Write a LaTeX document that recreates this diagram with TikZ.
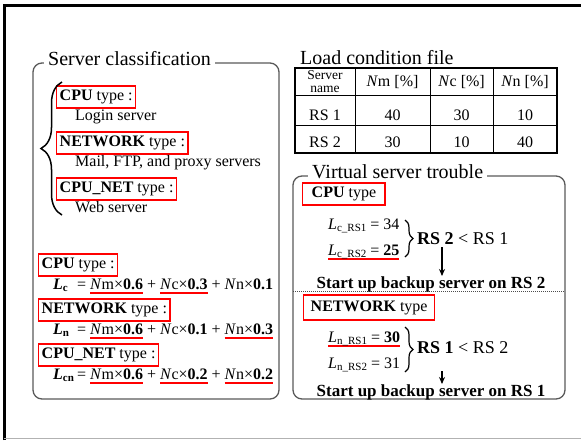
\documentclass[tikz,border=0pt]{standalone}
\usepackage{fontspec}
\setmainfont{Liberation Serif}
\usetikzlibrary{decorations.pathreplacing,arrows.meta}

\newcommand\fsz[1]{\fontsize{#1}{#1}\selectfont}
% lowered small subscript
\newcommand\sbs[1]{\raisebox{-2.5pt}{\fsz{11}#1}}
% red underline under a piece of text
\newsavebox\ulbox
\newcommand\redul[1]{\sbox\ulbox{#1}\rlap{\color{red}\rule[-4.5pt]{\wd\ulbox}{1.6pt}}\usebox\ulbox}
% load term: N<x> x weight
\newcommand\nx[2]{\textit{N}#1×\textbf{#2}}

\begin{document}
\begin{tikzpicture}[x=1pt,y=-1pt,
  panel/.style={draw=black!65, line width=1.3pt, rounded corners=9pt},
  ptitle/.style={fill=white, inner xsep=4pt, inner ysep=1pt, anchor=base west, font=\fsz{20}},
  tag/.style={draw=red, line width=1.4pt, inner xsep=3pt, inner ysep=3.5pt,
              text height=11pt, text depth=4pt, anchor=west, font=\fsz{16}},
  body/.style={inner sep=0pt, anchor=base west, font=\fsz{16}},
  res/.style={inner sep=0pt, anchor=base, font=\fsz{17}\bfseries},
  cmp/.style={inner sep=0pt, anchor=base west, font=\fsz{18}},
  cell/.style={inner sep=0pt, anchor=base, font=\fsz{16}},
  hcell/.style={inner sep=0pt, anchor=base, font=\fsz{13.5}},
  tbl/.style={draw=black, line width=0.8pt},
  brc/.style={decorate, line width=1.2pt},
  down/.style={-{Stealth[length=7pt,width=6pt]}, line width=1.3pt}]

\useasboundingbox (0,0) rectangle (581,440);

% slide frame
\draw[line width=3pt] (4,440) -- (4,5) -- (581,5);
\draw[black!30, line width=1pt] (4,438.5) -- (581,438.5);

% ---------------- left panel ----------------
\draw[panel] (33,63) rectangle (279,399);
\node[ptitle] (t1) at (44,65) {Server classification};

\node[tag] (k1) at (56,97) {\textbf{CPU} type :};
\node[body] (d1) at (75,120) {Login server};
\node[tag] (k2) at (56,143) {\textbf{NETWORK} type :};
\node[body] (d2) at (75,166) {Mail, FTP, and proxy servers};
\node[tag] (k3) at (56,189) {\textbf{CPU\_NET} type :};
\node[body] (d3) at (75,212) {Web server};
\draw[brc, line width=1.5pt, decoration={brace, amplitude=21pt}] (62,215) -- (62,82);

\node[tag] (f1) at (38,265) {\textbf{CPU} type :};
\node[body] (f1l) at (53,289) {\textbf{\textit{L}}\sbs{\textbf{c}}};
\node[body] (f1r) at (77,289) {= \redul{\nx{m}{0.6}} + \redul{\nx{c}{0.3}} + \nx{n}{0.1}};
\node[tag] (f2) at (38,310) {\textbf{NETWORK} type :};
\node[body] (f2l) at (53,334) {\textbf{\textit{L}}\sbs{\textbf{n}}};
\node[body] (f2r) at (77,334) {= \redul{\nx{m}{0.6}} + \nx{c}{0.1} + \redul{\nx{n}{0.3}}};
\node[tag] (f3) at (38,355) {\textbf{CPU\_NET} type :};
\node[body] (f3l) at (53,379) {\textbf{\textit{L}}\sbs{\textbf{cn}}};
\node[body] (f3r) at (77,379) {= \redul{\nx{m}{0.6}} + \redul{\nx{c}{0.2}} + \redul{\nx{n}{0.2}}};

% ---------------- load condition table ----------------
\node[body, font=\fsz{20}] (t2) at (300,64) {Load condition file};
\foreach \x in {355,430,493} \draw[tbl] (\x,68) -- (\x,153);
\foreach \y in {95,125} \draw[tbl] (295,\y) -- (557,\y);
\draw[tbl, line width=1.6pt] (295,68) rectangle (557,153);

\node[hcell] (h1a) at (325,79) {Server};
\node[hcell] (h1b) at (325,92.5) {name};
\node[cell] (h2) at (392.5,86) {\textit{N}m [\%]};
\node[cell] (h3) at (461.5,86) {\textit{N}c [\%]};
\node[cell] (h4) at (525,86) {\textit{N}n [\%]};
\node[cell] (r11) at (325,120) {RS 1};
\node[cell] (r12) at (392.5,120) {40};
\node[cell] (r13) at (461.5,120) {30};
\node[cell] (r14) at (525,120) {10};
\node[cell] (r21) at (325,147) {RS 2};
\node[cell] (r22) at (392.5,147) {30};
\node[cell] (r23) at (461.5,147) {10};
\node[cell] (r24) at (525,147) {40};

% ---------------- virtual server trouble ----------------
\draw[panel] (293,176) rectangle (565,399);
\node[ptitle] (t3) at (308,178) {Virtual server trouble};
\draw[black!70, line width=0.8pt, dash pattern=on 1pt off 1pt] (293,291) -- (565,291);

% CPU case
\node[tag, inner xsep=9pt] (c0) at (302,194) {\textbf{CPU} type};
\node[body] (c1) at (328,229) {\textit{L}\sbs{c\_RS1} = 34};
\node[body] (c2) at (328,255) {\redul{\textit{L}\sbs{c\_RS2} = \textbf{25}}};
\draw[brc, decoration={brace, amplitude=8pt}] (405,220) -- (405,257);
\node[cmp] (c3) at (417,244) {\textbf{RS 2} < RS 1};
\node[res] (c4) at (431,288) {Start up backup server on RS 2};
\coordinate (a1) at (442,247);
\draw[down] (a1) -- (a1 |- c4.north);

% NETWORK case
\node[tag, inner xsep=7pt, inner ysep=5pt] (n0) at (303,307.5) {\textbf{NETWORK} type};
\node[body] (n1) at (328,342) {\redul{\textit{L}\sbs{n\_RS1} = \textbf{30}}};
\node[body] (n2) at (328,368) {\textit{L}\sbs{n\_RS2} = 31};
\draw[brc, decoration={brace, amplitude=8pt}] (405,327) -- (405,372);
\node[cmp] (n3) at (417,353) {\textbf{RS 1} < RS 2};
\node[res] (n4) at (431,396) {Start up backup server on RS 1};
\coordinate (a2) at (442,371);
\draw[down] (a2) -- (a2 |- n4.north);

\end{tikzpicture}
\end{document}
